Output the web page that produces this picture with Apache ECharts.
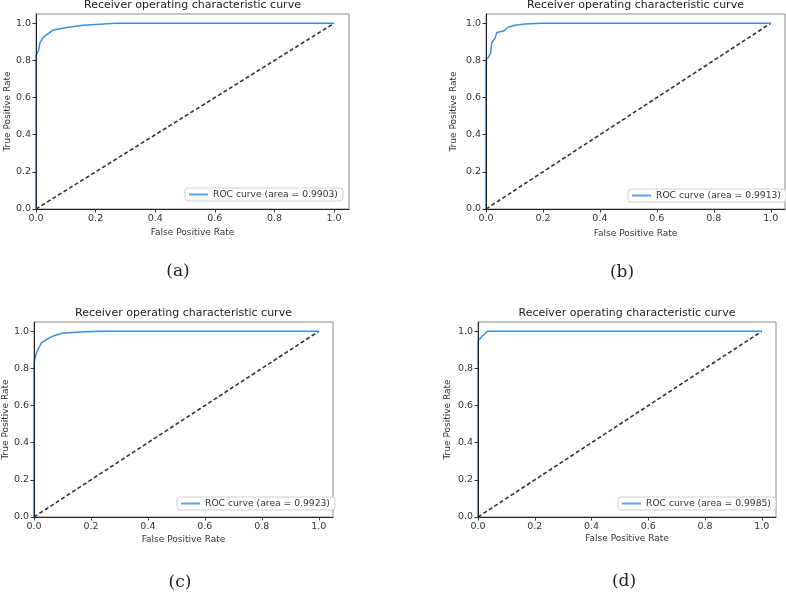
<!DOCTYPE html>
<html>
<head>
<meta charset="utf-8">
<script src="https://cdn.jsdelivr.net/npm/echarts@6/dist/echarts.min.js"></script>
<style>
  html, body { margin: 0; padding: 0; background: #fff; }
  #main { width: 786px; height: 593px; }
</style>
</head>
<body>
<div id="main"></div>
<script>
// ROC points
var fprA = [0, 0, 0.008, 0.0135, 0.025, 0.041, 0.058, 0.081, 0.114, 0.159, 0.215, 0.266, 1.0];
var tprA = [0, 0.83, 0.85, 0.896, 0.926, 0.944, 0.964, 0.971, 0.98, 0.989, 0.995, 1.0, 1.0];
var fprB = [0, 0, 0.008, 0.016, 0.02, 0.032, 0.038, 0.061, 0.079, 0.102, 0.137, 0.196, 1.0];
var tprB = [0, 0.805, 0.815, 0.84, 0.895, 0.92, 0.95, 0.958, 0.98, 0.989, 0.996, 1.0, 1.0];
var fprC = [0, 0, 0.007, 0.015, 0.027, 0.045, 0.068, 0.097, 0.161, 0.232, 1.0];
var tprC = [0, 0.83, 0.876, 0.906, 0.939, 0.957, 0.975, 0.989, 0.996, 1.0, 1.0];
var fprD = [0, 0, 0.007, 0.013, 0.019, 0.025, 0.033, 1.0];
var tprD = [0, 0.948, 0.948, 0.971, 0.971, 0.987, 1.0, 1.0];
var diagX = [0, 1];
var diagY = [0, 1];
var areas = ['0.9903', '0.9913', '0.9923', '0.9985'];
var captions = ['(a)', '(b)', '(c)', '(d)'];
var tickValues = [0, 0.2, 0.4, 0.6, 0.8, 1.0];

var titleText = 'Receiver operating characteristic curve';
var curves = [[fprA, tprA], [fprB, tprB], [fprC, tprC], [fprD, tprD]];

// panel layout (pixels)
var panels = [
    { left: 36,  top: 14,  width: 313, height: 195, yGap: 22, xGap: 19, leg: [185, 188], cap: [178, 272] },
    { left: 486, top: 14,  width: 299, height: 195, yGap: 28, xGap: 20, leg: [628, 189], cap: [622, 273] },
    { left: 34,  top: 322, width: 299, height: 195, yGap: 21, xGap: 18, leg: [177, 497], cap: [180, 583] },
    { left: 478, top: 322, width: 298, height: 195, yGap: 26, xGap: 17, leg: [618, 497], cap: [624, 582] }
];

function zip(xs, ys) {
    return xs.map(function (x, i) { return [x, ys[i]]; });
}

var FONT = 'DejaVu Sans';
var grid = [], xAxis = [], yAxis = [], series = [], legend = [], graphic = [];

panels.forEach(function (p, i) {
    grid.push({
        left: p.left, top: p.top, width: p.width, height: p.height,
        show: true, borderColor: '#8a8a8a', borderWidth: 1, backgroundColor: 'transparent'
    });
    var axisCommon = {
        type: 'value', min: 0, max: 1.05, gridIndex: i, z: 4,
        nameLocation: 'middle',
        nameTextStyle: { fontFamily: FONT, fontSize: 9, color: '#333' },
        axisLine: { show: true, onZero: false, lineStyle: { color: '#222', width: 1 } },
        axisTick: { show: true, length: 3.5, customValues: tickValues, lineStyle: { color: '#333' } },
        axisLabel: {
            customValues: tickValues, fontFamily: FONT, fontSize: 9.5, color: '#333', margin: 5,
            formatter: function (v) { return v.toFixed(1); }
        },
        splitLine: { show: false }
    };
    xAxis.push(Object.assign({}, axisCommon, { name: 'False Positive Rate', nameGap: p.xGap }));
    yAxis.push(Object.assign({}, axisCommon, { name: 'True Positive Rate', nameGap: p.yGap }));

    var name = 'ROC curve (area = ' + areas[i] + ')';
    series.push({
        name: name, type: 'line', xAxisIndex: i, yAxisIndex: i,
        data: zip(curves[i][0], curves[i][1]),
        showSymbol: false, symbol: 'none', z: 3,
        lineStyle: { color: '#3b8fe0', width: 1.5 },
        itemStyle: { color: '#5aa5e6' }
    });
    series.push({
        type: 'line', xAxisIndex: i, yAxisIndex: i,
        data: zip(diagX, diagY),
        showSymbol: false, symbol: 'none', z: 2,
        lineStyle: { color: '#333', width: 1.6, type: [4, 2.5] }
    });
    legend.push({
        data: [name], left: p.leg[0], top: p.leg[1],
        icon: 'rect', itemWidth: 19, itemHeight: 2,
        padding: [2, 5, 2, 4],
        backgroundColor: '#fff', borderColor: '#d0d0d0', borderWidth: 1, borderRadius: 3,
        textStyle: { fontFamily: FONT, fontSize: 9.2, color: '#333' },
        selectedMode: false
    });
    graphic.push({
        type: 'text', x: p.left + p.width / 2, y: p.top - 9,
        style: { text: titleText, fontFamily: FONT, fontSize: 11, fill: '#222', align: 'center', verticalAlign: 'middle' }
    });
    graphic.push({
        type: 'text', x: p.cap[0], y: p.cap[1],
        style: { text: captions[i], fontFamily: 'DejaVu Serif', fontSize: 17, fill: '#222', align: 'center', verticalAlign: 'middle' }
    });
});

var myChart = echarts.init(document.getElementById('main'));
myChart.setOption({
    animation: false,
    backgroundColor: '#fff',
    grid: grid,
    xAxis: xAxis,
    yAxis: yAxis,
    legend: legend,
    series: series,
    graphic: graphic
});
</script>
</body>
</html>
